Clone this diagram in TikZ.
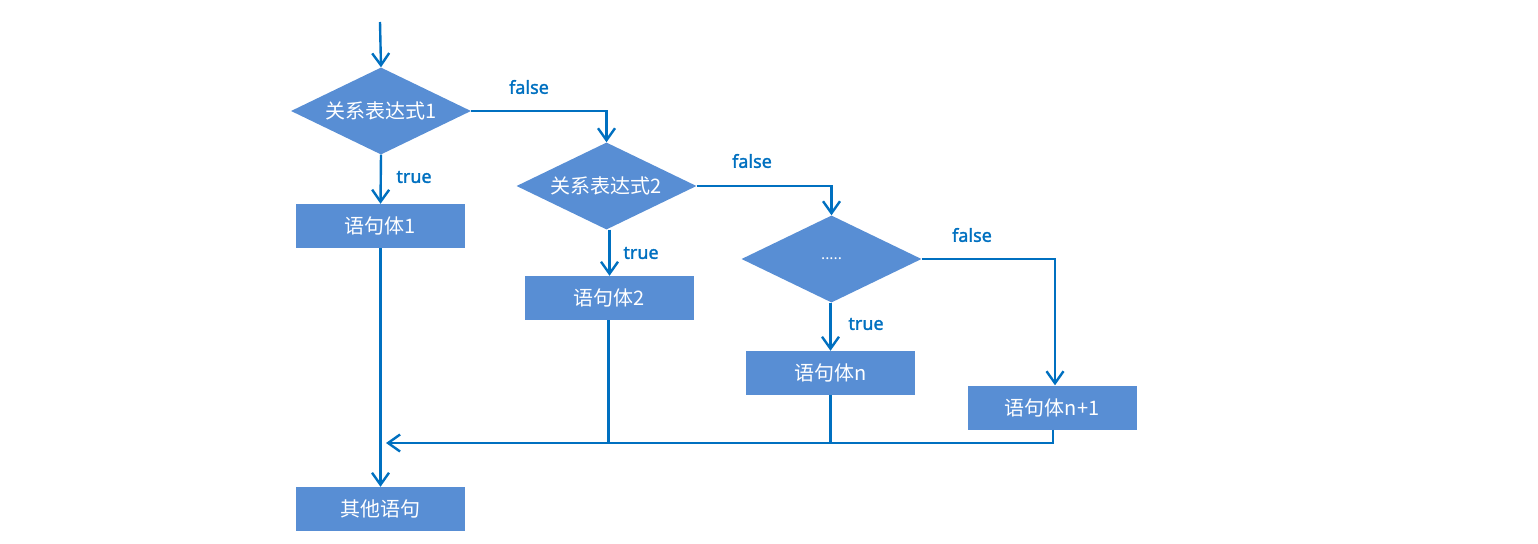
\documentclass[tikz,border=0pt]{standalone}
\usepackage{fontspec}
\newfontfamily\cjk{Noto Sans CJK SC}
\newfontfamily\labfont[FakeBold=1.6]{Noto Sans}
\usetikzlibrary{shapes.geometric,arrows.meta}
\definecolor{boxfill}{RGB}{88,142,212}
\definecolor{linec}{RGB}{0,112,192}
\tikzset{
  decision/.style={diamond, fill=boxfill, inner sep=0pt, minimum width=180pt, minimum height=87pt},
  dtext/.style={text=white, font=\cjk\fontsize{20}{22}\selectfont, inner sep=0pt},
  stmt/.style={rectangle, fill=boxfill, inner sep=0pt, minimum width=169pt, minimum height=44pt, text=white, font=\cjk\fontsize{20}{22}\selectfont},
  conn/.style={draw=linec, line width=2.4pt},
  arr/.style={conn, -{Straight Barb[length=12pt,width=17pt,line width=2.4pt]}},
  lbl/.style={text=linec, font=\labfont\fontsize{18}{20}\selectfont, inner sep=0pt}
}
\begin{document}
\begin{tikzpicture}[x=1pt,y=-1pt]
\useasboundingbox (0,0) rectangle (1538,543);
\coordinate (start) at (380,22);
\node[decision] (d1) at (381,111) {};
\node[dtext] (d1t) at (d1) {关系表达式1};
\node[stmt] (b1) at (380.5,226) {语句体1};
\node[decision] (d2) at (606.5,186) {};
\node[dtext] (d2t) at (d2) {关系表达式2};
\node[stmt] (b2) at (609.5,298) {语句体2};
\node[decision] (d3) at (831.5,259) {};
\node[dtext, font=\cjk\fontsize{15}{15}\selectfont] (d3t) at (d3) {.....};
\node[stmt] (bn) at (830.5,373) {语句体n};
\node[stmt] (bn1) at (1052,407.5) {语句体n+1};
\node[stmt] (bo) at (380.5,509) {其他语句};
\coordinate (tip) at (386,443);
\node[lbl] (f1) at (529,87) {false};
\node[lbl] (t1) at (414,177) {true};
\node[lbl] (f2) at (752,161) {false};
\node[lbl] (t2) at (641,253) {true};
\node[lbl] (f3) at (972,235) {false};
\node[lbl] (t3) at (866,324) {true};
\draw[arr] (start) -- (d1.north);
\draw[arr] (d1.south) -- (b1.north);
\draw[arr] (d1.east) -| (d2.north);
\draw[arr] (d2.south -| b2.north) -- (b2.north);
\draw[arr] (d2.east) -| (d3.north);
\draw[arr] (d3.south -| bn.north) -- (bn.north);
\draw[arr] (d3.east) -| ([xshift=3pt]bn1.north);
\draw[arr] (b1.south) -- (bo.north);
\draw[arr] ([xshift=1pt]bn1.south) |- (tip);
\draw[conn] ([xshift=-1pt]b2.south) -- ([xshift=-1pt]b2.south |- tip);
\draw[conn] (bn.south) -- (bn.south |- tip);
\end{tikzpicture}
\end{document}
